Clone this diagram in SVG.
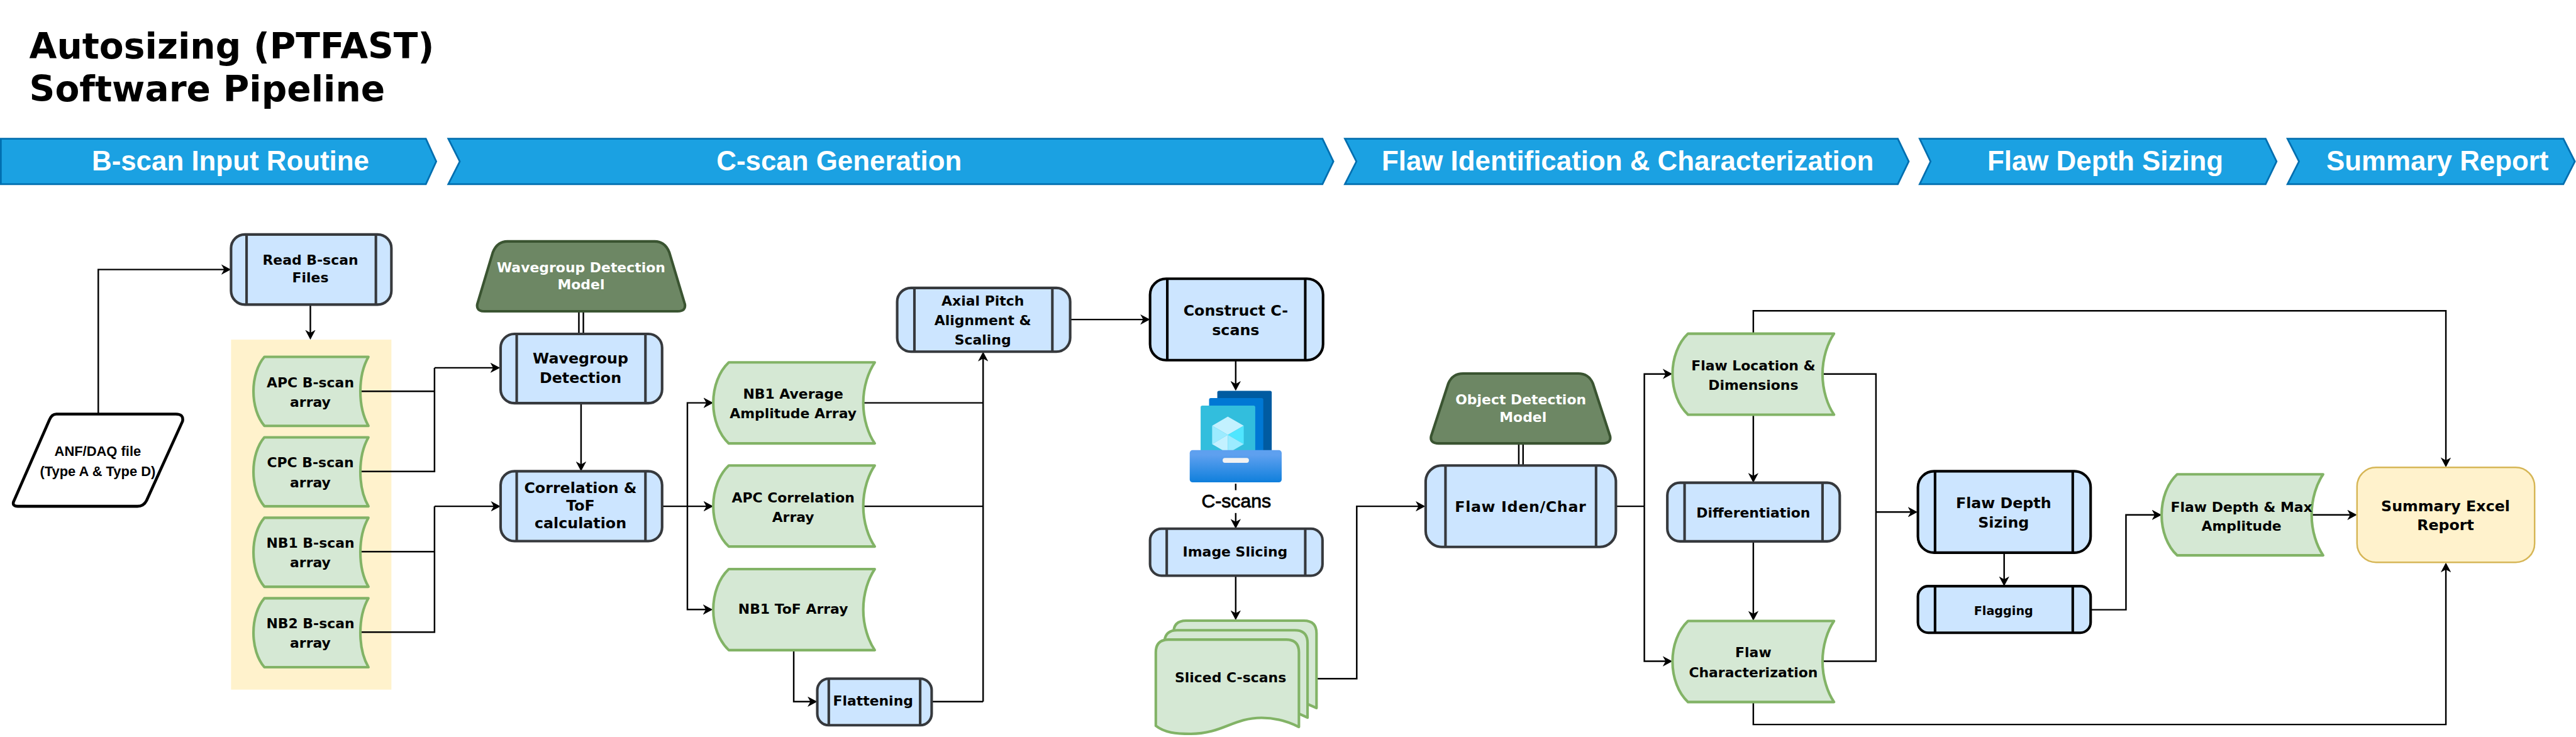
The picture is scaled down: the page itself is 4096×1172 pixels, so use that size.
<svg xmlns="http://www.w3.org/2000/svg" width="4096" height="1172" viewBox="0 0 4096 1172">
<style>
text{font-family:"DejaVu Sans",sans-serif;font-weight:700;font-size:24px;fill:#000;text-anchor:middle}
.title{font-size:62px;text-anchor:start}
.ban{font-family:"Liberation Sans",Arial,sans-serif;font-size:48px;fill:#fff}
.chev{fill:#1ba1e2;stroke:#006eaf;stroke-width:3}
.box{fill:#cce5ff;stroke:#36393d;stroke-width:4.5}
.boxk{fill:#cce5ff;stroke:#000;stroke-width:4.5}
.bar{stroke:#36393d;stroke-width:4.5;fill:none}
.bark{stroke:#000;stroke-width:4.5;fill:none}
.data{fill:#d5e8d4;stroke:#82b366;stroke-width:4.5;stroke-linejoin:round}
.model{fill:#6d8764;stroke:#3a5431;stroke-width:4.5}
.w{fill:#fff}
.t26{font-size:26px}
.cn{fill:none;stroke:#000;stroke-width:2.7}
.ar{marker-end:url(#arrow)}
.sans{font-family:"Liberation Sans",Arial,sans-serif}
</style>
<defs>
<marker id="arrow" markerUnits="userSpaceOnUse" markerWidth="17" markerHeight="18" viewBox="0 0 17 18" refX="14" refY="9" orient="auto"><path d="M17,9 L0,0 L5,9 L0,18 Z" fill="#000"/></marker>
<path id="data-s" d="M19,0 H200 C192,14 186,36 186,60 C186,84 192,106 200,120 H19 C7,106 0,84 0,60 C0,36 7,14 19,0 Z"/>
<path id="data-l" d="M27,0 H281 C270,16 261,42 261,70.5 C261,99 270,125 281,141 H27 C10,125 0,99 0,70.5 C0,42 10,16 27,0 Z"/>
<path id="doc" d="M0,22 Q0,0 22,0 H227 Q249,0 249,22 V152 C225,140 205,136 184,136 C135,136 115,164 61,164 C35,164 15,162 0,150 Z"/>
<linearGradient id="drawer" x1="0" y1="0" x2="0" y2="1"><stop offset="0.15" stop-color="#5ea0ef"/><stop offset="1" stop-color="#0f7fdc"/></linearGradient>
</defs>
<g transform="scale(0.91388)">
<rect x="0" y="0" width="4482" height="1282" fill="#fff"/>
<g id="title"><text class="title" x="51" y="101.7">Autosizing (PTFAST)</text><text class="title" x="51" y="175.7">Software Pipeline</text></g>
<g id="stage-bscan"><path class="chev" d="M1.5,241.5 H741 L759,281 L741,320.5 H1.5 Z"/><text class="ban" x="401" y="296">B-scan Input Routine</text></g>
<g id="stage-cscan"><path class="chev" d="M780,241.5 H2301 L2320,281 L2301,320.5 H780 L800,281 Z"/><text class="ban" x="1460" y="296">C-scan Generation</text></g>
<g id="stage-flaw"><path class="chev" d="M2340,241.5 H3302 L3321,281 L3302,320.5 H2340 L2360,281 Z"/><text class="ban" x="2832" y="296">Flaw Identification &amp; Characterization</text></g>
<g id="stage-depth"><path class="chev" d="M3340,241.5 H3942 L3961,281 L3942,320.5 H3340 L3359,281 Z"/><text class="ban" x="3663" y="296">Flaw Depth Sizing</text></g>
<g id="stage-summary"><path class="chev" d="M3980,241.5 H4460 L4480,281 L4460,320.5 H3980 L4000,281 Z"/><text class="ban" x="4241" y="296">Summary Report</text></g>

<g id="bscan-panel"><rect x="402" y="591" width="279" height="609" fill="#fff2cc"/></g>

<g id="connectors">
<path class="cn ar" d="M171,719 V469 H399"/>
<path class="cn ar" d="M540,530 V588"/>
<path class="cn" d="M627,681 H756 M627,820.5 H756 V640"/>
<path class="cn ar" d="M756,640 H867"/>
<path class="cn" d="M627,960 H756 M627,1100 H756 V881"/>
<path class="cn ar" d="M756,881 H868"/>
<path class="cn" d="M1007.2,541 V581 M1015,541 V581"/>
<path class="cn ar" d="M1011,702 V817"/>
<path class="cn ar" d="M1152,881 H1238"/>
<path class="cn ar" d="M1196,881 V701 H1238"/>
<path class="cn ar" d="M1196,881 V1060.7 H1237"/>
<path class="cn ar" d="M1381,1132 V1221 H1419"/>
<path class="cn" d="M1621,1221 H1710.5 M1502,701 H1710.5 M1502,881 H1710.5"/>
<path class="cn ar" d="M1710.5,1221 V615"/>
<path class="cn ar" d="M1862,556 H1998"/>
<path class="cn ar" d="M2150,627 V677"/>
<path class="cn" d="M2150,841.7 V853"/>
<path class="cn ar" d="M2150,892.7 V917"/>
<path class="cn ar" d="M2150,1002 V1076"/>
<path class="cn ar" d="M2292,1181 H2360.6 V881 H2477"/>
<path class="cn" d="M2642.5,771 V811 M2650,771 V811"/>
<path class="cn" d="M2812,881 H2861"/>
<path class="cn ar" d="M2861,881 V650.7 H2907"/>
<path class="cn ar" d="M2861,881 V1150.7 H2907"/>
<path class="cn ar" d="M3050.6,722 V837"/>
<path class="cn ar" d="M3050.6,942 V1077"/>
<path class="cn ar" d="M3050.6,581 V540.8 H4255.6 V810"/>
<path class="cn ar" d="M3050.6,1221 V1260.7 H4255.6 V982"/>
<path class="cn" d="M3172,650.7 H3264 V1150.7 H3172"/>
<path class="cn ar" d="M3264,891 H3333.5"/>
<path class="cn ar" d="M3487,962 V1017"/>
<path class="cn ar" d="M3638,1061 H3699 V896 H3758"/>
<path class="cn ar" d="M4023,896 H4098"/>
</g>

<g id="anf-file"><path d="M98,720.5 H306 Q320,720.5 317.6,733 L255,871 Q250,881 239,881 H31 Q21,881 23.6,873 L86,730.6 Q90,720.5 98,720.5 Z" fill="#fff" stroke="#000" stroke-width="5"/><text class="sans" x="170" y="793">ANF/DAQ file</text><text class="sans" x="170" y="828">(Type A &amp; Type D)</text></g>

<g id="read-bscan"><rect class="box" x="402" y="408" width="279" height="122" rx="24"/><path class="bar" d="M429,408 V530 M654,408 V530"/><text x="540" y="461">Read B-scan</text><text x="540" y="491">Files</text></g>

<g id="apc-bscan"><use href="#data-s" x="441" y="621" class="data"/><text x="540" y="673.6">APC B-scan</text><text x="540" y="708">array</text></g>
<g id="cpc-bscan"><use href="#data-s" x="441" y="761" class="data"/><text x="540" y="813">CPC B-scan</text><text x="540" y="847.5">array</text></g>
<g id="nb1-bscan"><use href="#data-s" x="441" y="901" class="data"/><text x="540" y="953">NB1 B-scan</text><text x="540" y="987.5">array</text></g>
<g id="nb2-bscan"><use href="#data-s" x="441" y="1041" class="data"/><text x="540" y="1093">NB2 B-scan</text><text x="540" y="1127.5">array</text></g>

<g id="wavegroup-model"><path class="model" d="M883,420 H1139 Q1157,420 1164.5,439 L1191.5,529 Q1194,541.6 1179,541.6 H843 Q828,541.6 830.5,529 L857.5,439 Q865,420 883,420 Z"/><text class="w" x="1011" y="474">Wavegroup Detection</text><text class="w" x="1011" y="503">Model</text></g>
<g id="wavegroup-detection"><rect class="box" x="871" y="581" width="281" height="120.6" rx="24"/><path class="bar" d="M899,581 V701.6 M1123,581 V701.6"/><text class="t26" x="1010" y="633">Wavegroup</text><text class="t26" x="1010" y="666">Detection</text></g>
<g id="correlation-tof"><rect class="box" x="871" y="820" width="281" height="121.6" rx="24"/><path class="bar" d="M899,820 V941.6 M1123,820 V941.6"/><text class="t26" x="1010" y="857.5">Correlation &amp;</text><text class="t26" x="1010" y="889">ToF</text><text class="t26" x="1010" y="919.6">calculation</text></g>

<g id="nb1-average"><use href="#data-l" x="1241" y="630.6" class="data"/><text x="1380" y="694">NB1 Average</text><text x="1380" y="728">Amplitude Array</text></g>
<g id="apc-correlation"><use href="#data-l" x="1241" y="810" class="data"/><text x="1380" y="874">APC Correlation</text><text x="1380" y="908.6">Array</text></g>
<g id="nb1-tof"><use href="#data-l" x="1241" y="990.3" class="data"/><text x="1380" y="1068">NB1 ToF Array</text></g>

<g id="flattening"><rect class="box" x="1422" y="1181" width="199" height="81" rx="20"/><path class="bar" d="M1442,1181 V1262 M1601,1181 V1262"/><text x="1519" y="1228">Flattening</text></g>
<g id="axial-pitch"><rect class="box" x="1561" y="501" width="301" height="111" rx="24"/><path class="bar" d="M1591,501 V612 M1831,501 V612"/><text x="1710" y="531.7">Axial Pitch</text><text x="1710" y="566">Alignment &amp;</text><text x="1710" y="600">Scaling</text></g>
<g id="construct-cscans"><rect class="boxk" x="2001" y="485" width="301" height="141.7" rx="28"/><path class="bark" d="M2031,485 V626.7 M2271,485 V626.7"/><text class="t26" x="2150" y="549">Construct C-</text><text class="t26" x="2150" y="583">scans</text></g>

<g id="cscans-icon">
<rect x="2118" y="680" width="94.7" height="110" rx="3" fill="#005ba1"/>
<rect x="2103.7" y="692.7" width="94.3" height="100" rx="3" fill="#0078d4"/>
<rect x="2089" y="705.7" width="95" height="90" rx="3" fill="#32bedd"/>
<path d="M2136.3,725 L2164,740.7 L2136.3,756.7 L2109,740.7 Z" fill="#c3f1ff"/>
<path d="M2136.3,756.7 L2164,740.7 V772.7 Z" fill="#50e6ff"/>
<path d="M2136.3,756.7 L2109,740.7 V772.7 Z" fill="#9cebff"/>
<path d="M2136.3,756.7 L2109,772.7 L2136.3,788.7 Z" fill="#c3f1ff"/>
<path d="M2136.3,756.7 L2164,772.7 L2136.3,788.7 Z" fill="#9cebff"/>
<rect x="2070" y="783.3" width="160" height="56" rx="5" fill="url(#drawer)"/>
<rect x="2127.3" y="797" width="45.7" height="8.3" rx="4" fill="#f2f2f2"/>
<text class="sans" x="2151" y="882.7" style="font-size:33px;font-weight:400;stroke:#000;stroke-width:.9">C-scans</text>
</g>

<g id="image-slicing"><rect class="box" x="2001" y="920" width="300" height="81.7" rx="20"/><path class="bar" d="M2030,920 V1001.7 M2271,920 V1001.7"/><text x="2149" y="968">Image Slicing</text></g>
<g id="sliced-cscans"><use href="#doc" x="2041.6" y="1080" class="data"/><use href="#doc" x="2026" y="1096.7" class="data"/><use href="#doc" x="2011" y="1113" class="data"/><text x="2141" y="1187">Sliced C-scans</text></g>

<g id="object-model"><path class="model" d="M2545.5,650 H2746 Q2764,650 2771.4,667 L2801.4,759 Q2804,771.6 2787.4,771.6 H2504 Q2487.4,771.6 2490,759 L2520,667 Q2527.5,650 2545.5,650 Z"/><text class="w" x="2646" y="704">Object Detection</text><text class="w" x="2650" y="734">Model</text></g>
<g id="flaw-iden"><rect class="box" x="2480.5" y="810" width="331" height="141.7" rx="28"/><path class="bar" d="M2515,810 V951.7 M2777,810 V951.7"/><text class="t26" x="2645.7" y="890.5" style="letter-spacing:.7px">Flaw Iden/Char</text></g>
<g id="flaw-location"><use href="#data-l" x="2910" y="580.6" class="data"/><text x="3050.6" y="644">Flaw Location &amp;</text><text x="3050.6" y="678">Dimensions</text></g>
<g id="differentiation"><rect class="box" x="2901" y="840" width="300" height="102" rx="22"/><path class="bar" d="M2931,840 V942 M3171,840 V942"/><text x="3050.6" y="900.5">Differentiation</text></g>
<g id="flaw-characterization"><use href="#data-l" x="2910" y="1080.6" class="data"/><text x="3050.6" y="1144">Flaw</text><text x="3050.6" y="1178">Characterization</text></g>

<g id="flaw-depth"><rect class="boxk" x="3337" y="820" width="300.5" height="141.7" rx="28"/><path class="bark" d="M3366.8,820 V961.7 M3606.4,820 V961.7"/><text class="t26" x="3486" y="884">Flaw Depth</text><text class="t26" x="3486" y="918">Sizing</text></g>
<g id="flagging"><rect class="boxk" x="3337" y="1020" width="300.5" height="81" rx="18"/><path class="bark" d="M3366.8,1020 V1101 M3606.4,1020 V1101"/><text x="3486" y="1070.6" style="font-size:21px">Flagging</text></g>
<g id="depth-amplitude"><use href="#data-l" x="3761" y="825.3" class="data"/><text x="3900" y="890.5">Flaw Depth &amp; Max</text><text x="3900" y="924">Amplitude</text></g>
<g id="summary-excel"><rect x="4101" y="813.4" width="309" height="165.2" rx="33" fill="#fff2cc" stroke="#d6b656" stroke-width="2.7"/><text class="t26" x="4255" y="889.6">Summary Excel</text><text class="t26" x="4255" y="922">Report</text></g>
</g>
</svg>
